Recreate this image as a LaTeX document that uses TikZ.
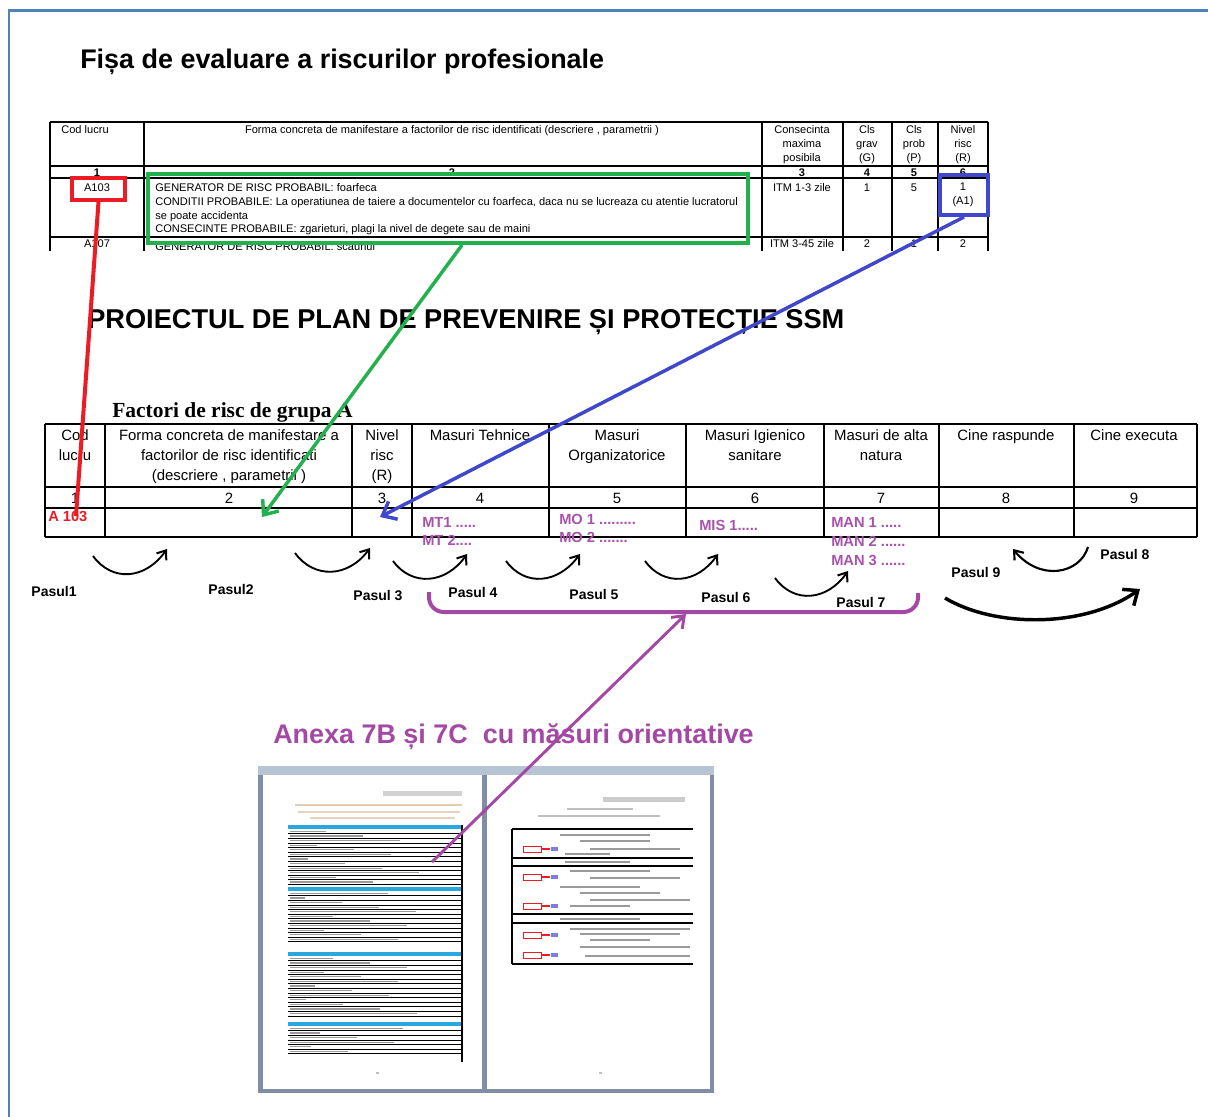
\documentclass[tikz,border=0pt]{standalone}
\usepackage{fontspec}
\setmainfont{Liberation Sans}
\newfontfamily\serifbold{Liberation Serif}
\usetikzlibrary{arrows.meta,calc}
\definecolor{frameblue}{HTML}{4F81BD}
\definecolor{myred}{HTML}{ED1C24}
\definecolor{mygreen}{HTML}{22B14C}
\definecolor{myblue}{HTML}{3F48CC}
\definecolor{mypurple}{HTML}{A349A4}
\definecolor{txtpurple}{HTML}{A852AD}
\definecolor{docframe}{HTML}{7F8EA4}
\definecolor{doctop}{HTML}{B7C4D4}
\definecolor{docbar}{HTML}{29A8E0}
\definecolor{doctext}{HTML}{9A9A9A}
\begin{document}
\begin{tikzpicture}[x=0.75pt,y=-0.75pt,
  tt/.style={font=\fontsize{8.3}{10.4}\selectfont, inner sep=0pt, align=center},
  ttb/.style={font=\bfseries\fontsize{8.3}{10.4}\selectfont, inner sep=0pt},
  mt/.style={font=\fontsize{11.2}{15}\selectfont, inner sep=0pt, align=center},
  pasul/.style={font=\bfseries\fontsize{10.5}{12}\selectfont, inner sep=0pt},
  purp/.style={text=txtpurple, font=\bfseries\fontsize{11}{12}\selectfont, inner sep=0pt, anchor=west},
  steparrow/.style={line width=1.4pt, -{Straight Barb[length=6pt,width=9pt,line width=1.5pt]}},
  hlbox/.style={line width=3pt, inner sep=0pt, fill=none},
  bigarrow/.style={line width=2.6pt, -{Straight Barb[length=9pt,width=15pt,line width=2.6pt]}},
  docrule/.style={line width=0.45pt, black},
  docstub/.style={line width=1.2pt, doctext},
]
\useasboundingbox (0,0) rectangle (1208,1117);
\fill[white] (0,0) rectangle (1208,1117);
% outer frame
\draw[frameblue, line width=2.2pt] (8,10.5) -- (1208,10.5);
\draw[frameblue, line width=1.5pt] (9,10) -- (9,1117);

% title 1
\node[anchor=west, inner sep=0pt, font=\bfseries\fontsize{20.2}{22}\selectfont] (t1) at (80,62) {Fișa de evaluare a riscurilor profesionale};

% ---------- top table ----------
\begin{scope}
\clip (40,115) rectangle (1000,250);
\draw[line width=1.2pt] (50,122) -- (988,122);
\foreach \x in {50,144,762,843,892,938,988} \draw[line width=1.2pt] (\x,122) -- (\x,254);
\draw[line width=0.8pt] (50,166) -- (988,166);
\draw[line width=1.2pt] (50,178) -- (988,178);
\draw[line width=1.2pt] (50,237) -- (988,237);
\node[tt, anchor=north] (h1) at (85,125) {Cod lucru};
\node[tt, anchor=north] (h2) at (452,125) {Forma concreta de manifestare a factorilor de risc identificati (descriere , parametrii )};
\node[tt, anchor=north] (h3) at (802,125) {Consecinta\\maxima\\posibila};
\node[tt, anchor=north] (h4) at (867,125) {Cls\\grav\\(G)};
\node[tt, anchor=north] (h5) at (914,125) {Cls\\prob\\(P)};
\node[tt, anchor=north] (h6) at (963,125) {Nivel\\risc\\(R)};
\foreach \x/\n/\t in {97/n1/1,452/n2/2,802/n3/3,867/n4/4,914/n5/5,963/n6/6}
  \node[ttb] (\n) at (\x,172.5) {\t};
\node[tt] (r1c1) at (97,187.5) {A103};
\node[tt, anchor=north west, align=left] (r1c2) at (155,183) {GENERATOR DE RISC PROBABIL: foarfeca\\CONDITII PROBABILE: La operatiunea de taiere a documentelor cu foarfeca, daca nu se lucreaza cu atentie lucratorul\\se poate accidenta\\CONSECINTE PROBABILE: zgarieturi, plagi la nivel de degete sau de maini};
\node[tt] (r1c3) at (802,187.5) {ITM 1-3 zile};
\node[tt] (r1c4) at (867,187.5) {1};
\node[tt] (r1c5) at (914,187.5) {5};
\node[tt, anchor=north] (r1c6) at (963,183) {1\\(A1)};
\node[tt] (r2c1) at (97,244) {A107};
\node[tt, anchor=west] (r2c2) at (155,246.5) {GENERATOR DE RISC PROBABIL: scaunul};
\node[tt] (r2c3) at (802,244) {ITM 3-45 zile};
\node[tt] (r2c4) at (867,244) {2};
\node[tt] (r2c5) at (914,244) {1};
\node[tt] (r2c6) at (963,244) {2};
\end{scope}

% highlight boxes
\node[hlbox, draw=myred, minimum width=39.75pt, minimum height=16.5pt] (rbox) at (98.5,189) {};
\node[hlbox, draw=mygreen, minimum width=450pt, minimum height=51.75pt] (gbox) at (448,208.5) {};
\node[hlbox, draw=myblue, minimum width=36pt, minimum height=30pt] (bbox) at (964,195) {};

% title 2
\node[anchor=west, inner sep=0pt, font=\bfseries\fontsize{20.4}{22}\selectfont] (t2) at (87,322) {PROIECTUL DE PLAN DE PREVENIRE ȘI PROTECȚIE SSM};

% factori de risc
\node[anchor=west, inner sep=0pt, font=\serifbold\bfseries\fontsize{16.1}{18}\selectfont] (t3) at (112,412) {Factori de risc de grupa A};

% ---------- middle table ----------
\draw[line width=1pt] (45,424) -- (1197,424);
\foreach \x in {45,105,352,412,549,686,824,939,1074,1197} \draw[line width=1pt] (\x,424) -- (\x,537);
\foreach \y in {487,508,537} \draw[line width=1pt] (45,\y) -- (1197,\y);
\node[mt, anchor=north] (m1) at (75,429.5) {Cod\\lucru};
\node[mt, anchor=north] (m2) at (229,429.5) {Forma concreta de manifestare a\\factorilor de risc identificati\\(descriere , parametrii )};
\node[mt, anchor=north] (m3) at (382,429.5) {Nivel\\risc\\(R)};
\node[mt, anchor=north] (m4) at (480,429.5) {Masuri Tehnice};
\node[mt, anchor=north] (m5) at (617,429.5) {Masuri\\Organizatorice};
\node[mt, anchor=north] (m6) at (755,429.5) {Masuri Igienico\\sanitare};
\node[mt, anchor=north] (m7) at (881,429.5) {Masuri de alta\\natura};
\node[mt, anchor=north] (m8) at (1006,429.5) {Cine raspunde};
\node[mt, anchor=north] (m9) at (1134,429.5) {Cine executa};
\foreach \x/\n/\t in {75/k1/1,229/k2/2,382/k3/3,480/k4/4,617/k5/5,755/k6/6,881/k7/7,1006/k8/8,1134/k9/9}
  \node[mt] (\n) at (\x,498) {\t};
\node[anchor=west, inner sep=0pt, text=myred, font=\bfseries\fontsize{11}{12}\selectfont] (a103) at (48,516) {A 103};
\node[purp] (mt1) at (422,522) {MT1 .....};
\node[purp] (mt2) at (422,540) {MT 2....};
\node[purp] (mo1) at (559,519) {MO 1 .........};
\node[purp] (mo2) at (559,537) {MO 2 .......};
\node[purp] (mis1) at (699,525) {MIS 1.....};
\node[purp] (man1) at (831,522) {MAN 1 .....};
\node[purp] (man2) at (831,541) {MAN 2 ......};
\node[purp] (man3) at (831,560) {MAN 3 ......};

% ---------- steps ----------
\draw[steparrow] (93,556) .. controls (112,582) and (145,580) .. (167,549);
\draw[steparrow] (295,553) .. controls (314,579) and (348,578) .. (370,548);
\draw[steparrow] (393,561) .. controls (412,587) and (446,584) .. (467,554);
\draw[steparrow] (506,561) .. controls (525,587) and (558,584) .. (580,554);
\draw[steparrow] (645,561) .. controls (664,587) and (697,584) .. (718,554);
\draw[steparrow] (775,578) .. controls (794,604) and (827,601) .. (848,571);
\draw[line width=1.6pt, -{Straight Barb[length=6pt,width=9pt,line width=1.6pt]}] (1088,547) .. controls (1080,574) and (1040,582) .. (1013,549);
\draw[bigarrow] (945,598) .. controls (995,628) and (1085,628) .. (1140,589);

\node[pasul] (p1) at (54,591) {Pasul1};
\node[pasul] (p2) at (231,589) {Pasul2};
\node[pasul] (p3) at (378,596) {Pasul 3};
\node[pasul] (p4) at (473,592) {Pasul 4};
\node[pasul] (p5) at (594,594) {Pasul 5};
\node[pasul] (p6) at (726,597) {Pasul 6};
\node[pasul] (p7) at (861,602) {Pasul 7};
\node[pasul] (p9) at (976,572) {Pasul 9};
\node[pasul] (p8) at (1125,554) {Pasul 8};

% purple bracket
\draw[mypurple, line width=3pt, rounded corners=11pt] (429,592) -- (429,612) -- (918,612) -- (918,593);
\coordinate (brk) at (686,614);

% annex title
\node[anchor=west, inner sep=0pt, text=mypurple, font=\bfseries\fontsize{20.2}{22}\selectfont] (anexa) at (273,737) {Anexa 7B și 7C\ \ cu măsuri orientative};

% ---------- document thumbnails ----------
\fill[docframe] (258,766) rectangle (714,1093);
\fill[doctop] (258,766) rectangle (714,775);
\fill[white] (263,775) rectangle (482,1089);
\fill[white] (487,775) rectangle (710,1089);
% left page
\fill[gray!35] (383,791) rectangle (462,796);
\draw[line width=1.2pt, color=brown!40] (295,805) -- (462,805);
\draw[line width=1.2pt, color=brown!35] (298,812) -- (460,812);
\draw[line width=1.2pt, color=brown!35] (310,818) -- (455,818);
\fill[docbar] (288,825) rectangle (462,829);
\fill[docbar] (288,887) rectangle (462,891);
\fill[docbar] (288,952) rectangle (462,956);
\fill[docbar] (288,1022) rectangle (462,1026);
\foreach \s/\n in {829/12,891/11,956/13,1026/6}{
  \foreach \i in {1,...,\n}{
    \pgfmathsetmacro{\yy}{\s+\i*4.6}
    \pgfmathsetmacro{\ll}{300+mod(\i*37+\s,120)}
    \draw[docrule] (288,\yy) -- (462,\yy);
    \draw[line width=0.9pt, doctext] (290,\yy-2.3) -- (\ll,\yy-2.3);
  }
}
\draw[line width=0.8pt] (462,825) -- (462,1062);
\fill[gray!50] (376,1072) rectangle (379,1074);
% right page
\fill[gray!40] (603,797) rectangle (685,802);
\draw[line width=1.3pt, gray!50] (567,809) -- (633,809);
\draw[line width=1.3pt, gray!50] (538,816) -- (660,816);
\foreach \y in {829,858,866,914,923,964} \draw[line width=0.9pt] (512,\y) -- (693,\y);
\draw[line width=0.8pt] (512,829) -- (512,964);
\foreach \y/\a/\b in {835/560/650,841/580/650,849/590/680,854/565/610,862/565/630,871/570/650,878/590/680,887/560/640,893/580/660,900/590/690,906/570/630,919/560/640,929/570/690,934/580/680,940/590/650,947/580/690,956/585/690}
  \draw[docstub] (\a,\y) -- (\b,\y);
\foreach \y in {849,877,906,935,955}{
  \draw[myred, line width=0.7pt] (523,\y-3) rectangle (541,\y+3);
  \draw[myred, line width=0.8pt] (541,\y) -- (550,\y);
  \fill[myblue!70] (551,\y-2) rectangle (558,\y+2);
}
\fill[gray!50] (599,1072) rectangle (602,1074);

% ---------- connectors ----------
\coordinate (rend) at (76,516);
\coordinate (gend) at (262,517);
\coordinate (bend) at (380,517);
\draw[myred, line width=3pt] (rbox.south) -- (rend);
\draw[mygreen, bigarrow] ($(gbox.south)+(14,0)$) -- (gend);
\draw[myblue, bigarrow] (bbox.south) -- (bend);
\coordinate (docpt) at (432,862);
\draw[mypurple, line width=2.2pt, -{Straight Barb[length=8pt,width=12pt,line width=2.2pt]}] (docpt) -- (brk);
\end{tikzpicture}
\end{document}
